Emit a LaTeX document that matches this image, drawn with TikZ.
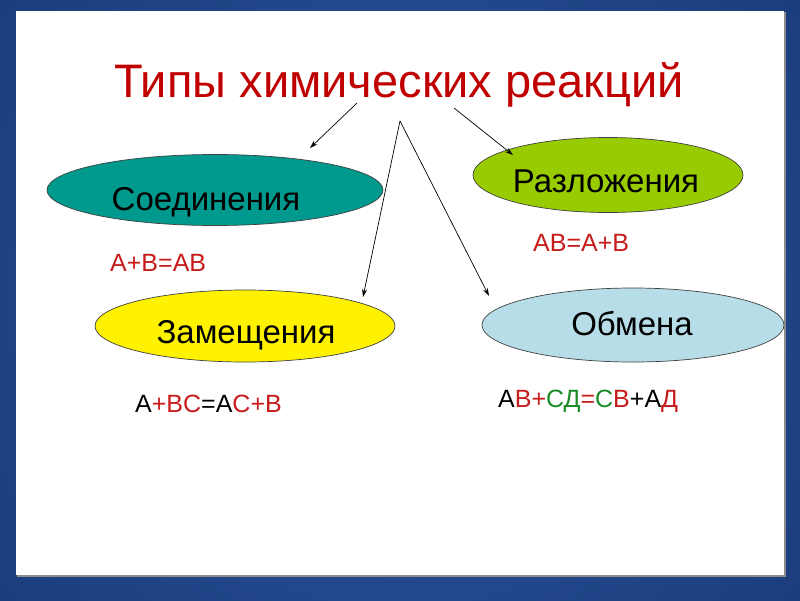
\documentclass[tikz,border=0pt]{standalone}
\usepackage{fontspec}
\setmainfont{Liberation Sans}
\usetikzlibrary{shapes.geometric, arrows.meta}
\definecolor{slideblue}{RGB}{44,86,158}
\definecolor{slidedark}{RGB}{10,36,92}
\definecolor{titlered}{RGB}{192,0,0}
\definecolor{eqred}{RGB}{200,28,28}
\definecolor{eqgreen}{RGB}{28,140,40}
\definecolor{tealfill}{RGB}{0,153,142}
\definecolor{limefill}{RGB}{153,204,0}
\definecolor{bluefill}{RGB}{183,222,232}

\begin{document}
\begin{tikzpicture}[x=1pt, y=-1pt,
    oval/.style={ellipse, draw=black!75, line width=0.7pt, inner sep=0pt},
    ovaltext/.style={anchor=base, inner sep=0pt, font=\fontsize{33}{40}\selectfont},
    eq/.style={anchor=base west, inner sep=0pt, font=\fontsize{25}{30}\selectfont},
    arr/.style={-{Stealth[length=8pt, width=5pt]}, line width=0.7pt}]
    \useasboundingbox (0,0) rectangle (800,600);
    \begin{scope}
        \clip (0,0) rectangle (800,600);
        \shade[outer color=slidedark, inner color=slideblue] (400,300) circle (1000);
    \end{scope}
    \fill[black!45] (17,12) rectangle (786,577);
    \fill[white] (16,11) rectangle (784,575);

    \node[anchor=base, inner sep=0pt, text=titlered, font=\fontsize{47}{56}\selectfont] (title) at (399,97) {Типы химических реакций};

    \node[oval, fill=tealfill, minimum width=336pt, minimum height=71pt] (soed) at (215,190) {};
    \node[oval, fill=limefill, minimum width=270pt, minimum height=75pt] (razl) at (608,175) {};
    \node[oval, fill=yellow, minimum width=300pt, minimum height=72pt] (zam) at (245,326) {};
    \node[oval, fill=bluefill, minimum width=302pt, minimum height=74pt] (obm) at (633,325) {};

    \node[ovaltext] (soedtxt) at (206,210) {Соединения};
    \node[ovaltext] (razltxt) at (606,192) {Разложения};
    \node[ovaltext] (zamtxt) at (246,343) {Замещения};
    \node[ovaltext] (obmtxt) at (632,335) {Обмена};

    \node[eq, text=eqred] (eq1) at (110,271) {A+B=AB};
    \node[eq, text=eqred] (eq2) at (533,251) {AB=A+B};
    \node[eq] (eq3) at (135,412) {A\textcolor{eqred}{+BC}=A\textcolor{eqred}{C+B}};
    \node[eq] (eq4) at (498,407) {А\textcolor{eqred}{В+}\textcolor{eqgreen}{СД}\textcolor{eqred}{=}\textcolor{eqgreen}{С}\textcolor{eqred}{В}+А\textcolor{eqred}{Д}};

    \coordinate (s1) at (357,103);
    \coordinate (e1) at (310,148);
    \coordinate (s2) at (400,121);
    \coordinate (e2) at (363,297);
    \coordinate (e3) at (489,296);
    \coordinate (s4) at (454,108);
    \coordinate (e4) at (513,155);
    \draw[arr] (s1) -- (e1);
    \draw[arr] (s2) -- (e2);
    \draw[arr] (s2) -- (e3);
    \draw[arr] (s4) -- (e4);
\end{tikzpicture}
\end{document}
